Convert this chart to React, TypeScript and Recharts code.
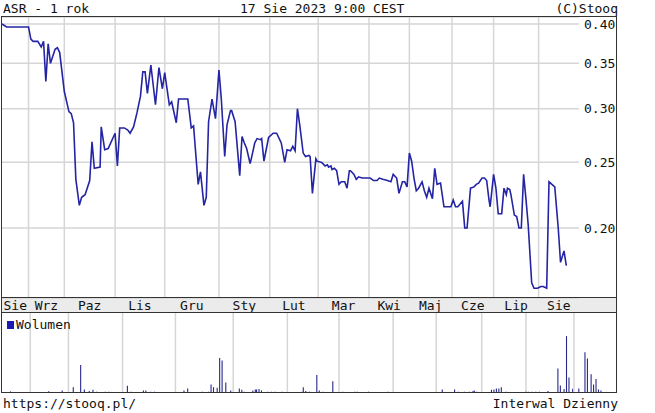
import React from 'react';
import { LineChart, Line, XAxis, YAxis, CartesianGrid, ReferenceLine, BarChart, Bar } from 'recharts';

// ---- data ----
const title = 'ASR - 1 rok';
const dateLabel = '17 Sie 2023 9:00 CEST';
const copyright = '(C)Stooq';
const footerLeft = 'https://stooq.pl/';
const footerRight = 'Interwal Dzienny';
const volumeLabel = 'Wolumen';

const sessionCount = 500;
const monthLabels = ['Sie', 'Wrz', 'Paz', 'Lis', 'Gru', 'Sty', 'Lut', 'Mar', 'Kwi', 'Maj', 'Cze', 'Lip', 'Sie'];
const monthStarts = [23, 54, 98, 141, 188, 232, 274, 318, 353, 390, 426, 465];
const priceTicks = [0.2, 0.25, 0.3, 0.35, 0.4];
const priceDomain = [0.1577, 0.4096];

const priceSessions = [
  0, 4, 23, 25, 27, 31, 34, 36, 38, 40, 42, 46, 48, 50, 54, 58, 60, 62, 64, 67, 69, 72, 76, 78, 80, 85, 86, 89, 92,
  98, 100, 102, 106, 109, 111, 114, 117, 120, 122, 124, 126, 129, 133, 136, 139, 141, 145, 147, 151, 153, 161, 164,
  166, 170, 172, 175, 177, 179, 182, 185, 188, 190, 193, 195, 198, 199, 202, 206, 208, 210, 212, 215, 216, 219, 221,
  224, 225, 227, 231, 235, 238, 242, 245, 247, 250, 252, 254, 256, 258, 261, 263, 266, 267, 269, 272, 273, 277, 280,
  282, 283, 285, 286, 288, 290, 292, 294, 297, 299, 301, 302, 305, 307, 309, 312, 315, 317, 319, 322, 325, 327, 330,
  334, 337, 339, 342, 344, 347, 349, 351, 353, 355, 357, 359, 361, 364, 366, 368, 370, 373, 375, 377, 380, 383, 387,
  389, 391, 393, 395, 399, 401, 403, 406, 409, 411, 413, 416, 418, 420, 422, 423, 426, 428, 430, 433, 435, 437, 438,
  440, 441, 444, 446, 448, 450, 452, 454, 456, 459, 461, 464, 467, 469, 472, 474, 479, 482, 484, 487, 489,
];
const priceValues = [
  0.400, 0.396, 0.396, 0.380, 0.377, 0.377, 0.370, 0.377, 0.329, 0.374, 0.350, 0.367, 0.369, 0.363, 0.318, 0.297,
  0.295, 0.286, 0.236, 0.216, 0.222, 0.224, 0.235, 0.268, 0.245, 0.246, 0.282, 0.261, 0.262, 0.276, 0.247, 0.281,
  0.281, 0.279, 0.276, 0.282, 0.296, 0.313, 0.340, 0.340, 0.316, 0.348, 0.304, 0.345, 0.321, 0.339, 0.304, 0.307,
  0.286, 0.310, 0.310, 0.281, 0.283, 0.232, 0.242, 0.216, 0.222, 0.287, 0.310, 0.290, 0.342, 0.311, 0.255, 0.284,
  0.298, 0.298, 0.287, 0.239, 0.273, 0.267, 0.262, 0.249, 0.253, 0.267, 0.271, 0.270, 0.271, 0.251, 0.272, 0.276,
  0.276, 0.267, 0.250, 0.261, 0.260, 0.264, 0.260, 0.300, 0.284, 0.258, 0.255, 0.256, 0.255, 0.225, 0.253, 0.251,
  0.250, 0.247, 0.248, 0.246, 0.247, 0.244, 0.245, 0.243, 0.232, 0.234, 0.234, 0.229, 0.243, 0.243, 0.240, 0.236,
  0.238, 0.237, 0.237, 0.237, 0.237, 0.235, 0.235, 0.237, 0.236, 0.235, 0.234, 0.240, 0.237, 0.225, 0.234, 0.234,
  0.230, 0.258, 0.251, 0.237, 0.227, 0.229, 0.234, 0.227, 0.222, 0.229, 0.221, 0.245, 0.232, 0.233, 0.215, 0.215,
  0.215, 0.220, 0.215, 0.215, 0.219, 0.200, 0.200, 0.229, 0.230, 0.232, 0.233, 0.237, 0.237, 0.235, 0.220, 0.215,
  0.240, 0.229, 0.210, 0.210, 0.229, 0.224, 0.229, 0.228, 0.224, 0.209, 0.208, 0.200, 0.200, 0.240, 0.221, 0.202,
  0.166, 0.163, 0.163, 0.164, 0.164, 0.163, 0.234, 0.230, 0.200, 0.178, 0.185, 0.176,
];

const volumeSessions = [
  7, 38, 49, 58, 64, 67, 71, 74, 77, 84, 87, 102, 105, 115, 117, 121, 124, 141, 148, 151, 163, 168, 170, 172, 175, 177,
  179, 182, 186, 193, 195, 197, 204, 206, 207, 209, 211, 216, 219, 222, 228, 244, 245, 247, 250, 256, 258, 261, 269,
  277, 287, 289, 298, 314, 353, 358, 368, 371, 376, 380, 383, 384, 386, 398, 400, 402, 404, 406, 410, 426, 428, 431,
  434, 437, 444, 452, 454, 457, 459, 461, 464, 469, 474, 476, 479, 481, 483, 485, 487,
];
const volumeValues = [
  5, 5, 8, 18, 86, 11, 6, 10, 4, 4, 4, 22, 4, 8, 8, 4, 4, 4, 8, 14, 4, 4, 26, 18, 16, 108, 100, 32, 8, 14, 10, 4, 8,
  11, 11, 12, 8, 4, 4, 4, 4, 4, 18, 6, 4, 55, 8, 4, 36, 4, 4, 4, 4, 4, 4, 11, 11, 4, 4, 4, 6, 8, 4, 10, 11, 14, 14,
  18, 4, 7, 4, 4, 4, 4, 6, 75, 23, 12, 175, 48, 13, 14, 125, 106, 58, 26, 43, 11, 8,
];
const volumeDomain = [0, 246];

// ---- derived tables ----
const priceData = priceSessions.map((s, k) => ({ s, p: priceValues[k] }));
const volumeData = volumeSessions.map((s, k) => ({ s, v: volumeValues[k] }));
const bounds = [0, ...monthStarts, sessionCount];
const monthMids = monthLabels.map((_, k) => (bounds[k] + bounds[k + 1]) / 2);

const FONT = '"DejaVu Sans Mono", monospace';
const TEXT = '#111';
const FRAME = '#333';
const GRID = '#d6d6d6';
const BLUE = '#2424a4';

const W = 655;
const PLOT_L = 2;
const PLOT_R = 38; // 655 - 617
const textStyle: React.CSSProperties = {
  position: 'absolute',
  fontFamily: FONT,
  fontSize: 13,
  lineHeight: '15px',
  color: TEXT,
  whiteSpace: 'pre',
};

const tickMark = { stroke: FRAME, strokeWidth: 1 };

export default function App() {
  return (
    <div style={{ position: 'fixed', left: 0, top: 0, width: W, height: 413, background: '#fff', overflow: 'hidden' }}>
      {/* month band background */}
      <div
        style={{
          position: 'absolute',
          left: PLOT_L,
          top: 298,
          width: W - PLOT_L - PLOT_R,
          height: 14,
          background: '#ebebeb',
        }}
      />
      {/* header */}
      <div style={{ ...textStyle, left: 3, top: 1 }}>{title}</div>
      <div style={{ ...textStyle, left: 240, top: 1 }}>{dateLabel}</div>
      <div style={{ ...textStyle, right: W - 618, top: 1 }}>{copyright}</div>

      {/* price chart */}
      <div style={{ position: 'absolute', left: 0, top: 0 }}>
        <LineChart width={W} height={313} data={priceData} margin={{ top: 17, right: PLOT_R, left: PLOT_L, bottom: 1 }}>
          <CartesianGrid vertical={false} stroke={GRID} strokeWidth={1.5} />
          {monthStarts.map((m) => (
            <ReferenceLine key={m} x={m} stroke={GRID} strokeWidth={1.5} ifOverflow="hidden" />
          ))}
          <XAxis
            dataKey="s"
            type="number"
            domain={[0, sessionCount]}
            ticks={monthMids}
            interval={0}
            tickFormatter={(_v: number, i: number) => monthLabels[i]}
            tickLine={false}
            axisLine={false}
            tickSize={0}
            tickMargin={3}
            height={14}
            tick={{ fontFamily: FONT, fontSize: 13, fill: TEXT }}
          />
          <XAxis
            xAxisId="topTicks"
            orientation="top"
            mirror
            dataKey="s"
            type="number"
            domain={[0, sessionCount]}
            ticks={monthStarts}
            interval={0}
            tick={false}
            tickLine={tickMark}
            tickSize={4}
            axisLine={false}
            height={0}
          />
          <XAxis
            xAxisId="bottomTicks"
            orientation="bottom"
            mirror
            dataKey="s"
            type="number"
            domain={[0, sessionCount]}
            ticks={monthStarts}
            interval={0}
            tick={false}
            tickLine={tickMark}
            tickSize={4}
            axisLine={false}
            height={0}
          />
          <YAxis
            orientation="right"
            type="number"
            scale="log"
            domain={priceDomain}
            allowDataOverflow
            ticks={priceTicks}
            interval={0}
            tickFormatter={(v: number) => v.toFixed(2)}
            tickLine={false}
            axisLine={false}
            tickSize={0}
            tickMargin={5}
            width={PLOT_R}
            tick={{ fontFamily: FONT, fontSize: 13, fill: TEXT }}
          />
          <YAxis
            yAxisId="rightTicks"
            orientation="right"
            mirror
            type="number"
            scale="log"
            domain={priceDomain}
            allowDataOverflow
            ticks={priceTicks}
            interval={0}
            tick={false}
            tickLine={tickMark}
            tickSize={4}
            axisLine={false}
            width={0}
          />
          <Line
            dataKey="p"
            type="linear"
            stroke={BLUE}
            strokeWidth={1.6}
            dot={false}
            isAnimationActive={false}
          />
        </LineChart>
      </div>

      {/* volume chart */}
      <div style={{ position: 'absolute', left: 0, top: 312 }}>
        <BarChart width={W} height={82} data={volumeData} margin={{ top: 1, right: PLOT_R, left: PLOT_L, bottom: 1 }}>
          {monthStarts.map((m) => (
            <ReferenceLine key={m} x={m} stroke={GRID} strokeWidth={1.5} ifOverflow="hidden" />
          ))}
          <XAxis dataKey="s" type="number" domain={[0, sessionCount]} hide />
          <XAxis
            xAxisId="volTopTicks"
            orientation="top"
            mirror
            dataKey="s"
            type="number"
            domain={[0, sessionCount]}
            ticks={monthStarts}
            interval={0}
            tick={false}
            tickLine={tickMark}
            tickSize={4}
            axisLine={false}
            height={0}
          />
          <YAxis type="number" domain={volumeDomain} hide allowDataOverflow />
          <Bar dataKey="v" fill="#2a2a8c" barSize={2} isAnimationActive={false} />
        </BarChart>
      </div>

      {/* volume legend */}
      <div style={{ position: 'absolute', left: 7, top: 321, width: 7, height: 8, background: '#1a1ab0' }} />
      <div style={{ ...textStyle, left: 16, top: 317 }}>{volumeLabel}</div>

      {/* frames */}
      <div
        style={{
          position: 'absolute',
          left: PLOT_L - 1,
          top: 16,
          width: W - PLOT_L - PLOT_R + 1,
          height: 393 - 16,
          border: `1px solid ${FRAME}`,
          boxSizing: 'border-box',
          pointerEvents: 'none',
        }}
      />
      <div
        style={{
          position: 'absolute',
          left: PLOT_L - 1,
          top: 297,
          width: W - PLOT_L - PLOT_R + 1,
          height: 16,
          borderTop: `1px solid ${FRAME}`,
          borderBottom: `1px solid ${FRAME}`,
          boxSizing: 'border-box',
          pointerEvents: 'none',
        }}
      />

      {/* footer */}
      <div style={{ ...textStyle, left: 3, top: 396 }}>{footerLeft}</div>
      <div style={{ ...textStyle, right: W - 618, top: 396 }}>{footerRight}</div>
    </div>
  );
}
